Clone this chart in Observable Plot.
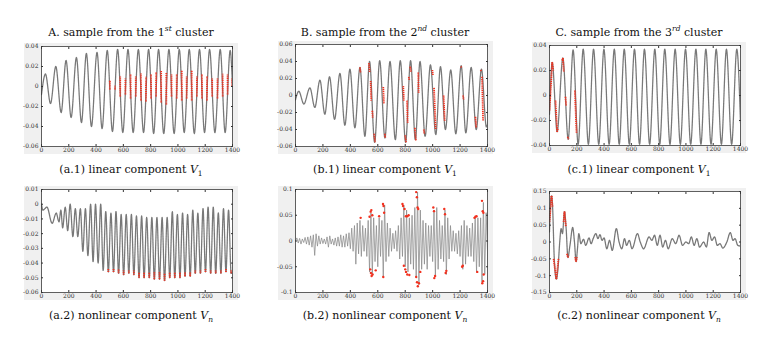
<!DOCTYPE html>
<html><head><meta charset="utf-8">
<script src="https://cdn.jsdelivr.net/npm/d3@7"></script>
<script src="https://cdn.jsdelivr.net/npm/@observablehq/plot@0.6"></script>
<style>
body{margin:0;background:#fff;}
#root{position:relative;width:772px;height:347px;overflow:hidden;font-family:"DejaVu Serif",serif;}
.p{position:absolute;}
.t{position:absolute;font-size:11px;color:#111;white-space:nowrap;transform:translateX(-50%);line-height:1;font-family:"DejaVu Serif",serif;}
.t sup,.t sub{font-size:7.5px;}
</style></head><body><div id="root"></div>
<script>
// ---------- data ----------
const xTicks = [0,200,400,600,800,1000,1200,1400];
const yTicksA1 = [-0.06,-0.04,-0.02,0,0.02,0.04];
const yTicksA2 = [-0.06,-0.05,-0.04,-0.03,-0.02,-0.01,0,0.01];
const yTicksB1 = [-0.06,-0.04,-0.02,0,0.02,0.04,0.06];
const yTicksB2 = [-0.1,-0.05,0,0.05,0.1];
const yTicksC1 = [-0.04,-0.02,0,0.02,0.04];
const yTicksC2 = [-0.15,-0.1,-0.05,0,0.05,0.1,0.15];

// series read as turning points [x, value]
const seriesA1 = [[0,-0.008],[29,0.0125],[66,-0.017],[105,0.020],[144,-0.026],[180,0.026],[217,-0.031],[256,0.029],[293,-0.036],[329,0.033],[366,-0.040],[407,0.034],[444,-0.042],[482,0.036],[520,-0.045],[558,0.037],[596,-0.046],[634,0.037],[672,-0.046],[710,0.037],[748,-0.046],[785,0.037],[822,-0.047],[858,0.037],[896,-0.047],[934,0.037],[972,-0.047],[1010,0.037],[1046,-0.046],[1083,0.037],[1120,-0.047],[1158,0.037],[1195,-0.046],[1232,0.037],[1271,-0.046],[1310,0.037],[1346,-0.046],[1383,0.036],[1400,0.0]];
const seriesA2 = [[0,0.000],[10,-0.004],[40,-0.002],[78,-0.013],[108,-0.006],[128,-0.012],[142,-0.004],[155,-0.016],[174,-0.002],[192,-0.018],[210,0.0],[230,-0.022],[248,-0.003],[266,-0.022],[285,-0.003],[303,-0.032],[322,-0.003],[340,-0.035],[360,0.000],[378,-0.039],[396,0.000],[415,-0.040],[434,0.000],[452,-0.045],[471,-0.005],[490,-0.046],[509,-0.006],[528,-0.046],[546,-0.005],[565,-0.047],[584,-0.007],[602,-0.048],[621,-0.007],[640,-0.047],[659,-0.007],[677,-0.048],[696,-0.008],[715,-0.050],[734,-0.008],[752,-0.050],[771,-0.009],[790,-0.050],[809,-0.009],[827,-0.051],[846,-0.009],[865,-0.051],[884,-0.009],[902,-0.052],[921,-0.009],[940,-0.050],[959,-0.005],[977,-0.050],[996,-0.007],[1015,-0.050],[1034,-0.006],[1052,-0.049],[1071,-0.007],[1090,-0.049],[1109,-0.004],[1127,-0.047],[1146,-0.006],[1165,-0.047],[1184,-0.003],[1202,-0.046],[1221,-0.002],[1240,-0.047],[1259,-0.002],[1277,-0.047],[1296,-0.006],[1315,-0.047],[1334,-0.003],[1352,-0.046],[1371,-0.004],[1390,-0.047],[1400,-0.046]];
const seriesB1 = [[0,-0.005],[24,0.005],[61,-0.010],[105,0.009],[141,-0.014],[178,0.018],[214,-0.022],[248,0.022],[285,-0.028],[324,0.026],[360,-0.035],[397,0.031],[433,-0.038],[470,0.033],[506,-0.048],[540,0.040],[577,-0.055],[614,0.041],[652,-0.050],[689,0.040],[728,-0.052],[764,0.041],[803,-0.055],[839,0.041],[874,-0.052],[908,0.040],[945,-0.048],[984,0.036],[1023,-0.046],[1057,0.034],[1093,-0.040],[1132,0.030],[1169,-0.045],[1208,0.035],[1242,-0.044],[1281,0.033],[1318,-0.040],[1356,0.031],[1392,-0.037],[1400,-0.034]];
const seriesB2 = [0.000,0.006,-0.004,0.005,-0.006,0.004,-0.003,0.007,-0.006,0.008,-0.008,0.010,-0.012,0.012,-0.028,0.014,-0.010,0.010,-0.006,0.006,-0.005,0.004,-0.006,0.008,-0.012,0.010,-0.006,0.004,-0.008,0.006,-0.010,0.008,-0.010,0.012,-0.012,0.010,-0.012,0.014,-0.010,0.016,-0.015,0.025,-0.020,0.030,-0.045,0.035,-0.025,0.040,-0.030,0.030,-0.020,0.025,-0.030,0.040,-0.060,0.055,-0.068,0.045,-0.040,0.030,-0.050,0.045,-0.030,0.040,-0.070,0.070,-0.040,0.035,-0.030,0.025,-0.020,0.015,-0.015,0.020,-0.020,0.030,-0.035,0.045,-0.030,0.070,-0.050,0.060,-0.060,0.045,-0.045,0.050,-0.055,0.065,-0.070,0.095,-0.085,0.060,-0.055,0.040,-0.045,0.035,-0.055,0.030,-0.030,0.030,-0.040,0.060,-0.070,0.065,-0.055,0.040,-0.035,0.030,-0.040,0.060,-0.065,0.045,-0.035,0.030,-0.020,0.020,-0.020,0.015,-0.025,0.020,-0.030,0.030,-0.055,0.040,-0.045,0.030,-0.030,0.025,-0.030,0.035,-0.040,0.045,-0.060,0.045,-0.050,0.045,-0.080,0.075,-0.065,0.055,-0.020];
const seriesB2Step = 10;
const seriesC1 = [[0,-0.015],[20,0.0265],[56,-0.029],[98,0.030],[137,-0.035],[173,0.0365],[210,-0.039],[247,0.037],[285,-0.039],[323,0.037],[361,-0.039],[399,0.037],[437,-0.039],[475,0.037],[511,-0.039],[548,0.037],[585,-0.039],[623,0.037],[660,-0.039],[696,0.037],[734,-0.039],[772,0.037],[808,-0.039],[845,0.037],[883,-0.039],[921,0.037],[959,-0.039],[997,0.037],[1035,-0.039],[1073,0.037],[1110,-0.039],[1146,0.037],[1184,-0.039],[1222,0.037],[1260,-0.039],[1297,0.037],[1335,-0.039],[1373,0.037],[1400,-0.022]];
const seriesC2 = [[0,0.03],[8,0.12],[15,0.137],[22,0.11],[35,-0.05],[50,-0.11],[62,-0.08],[75,0.0],[85,0.04],[95,0.025],[110,0.09],[122,0.04],[135,-0.046],[150,-0.01],[170,0.043],[183,0.0],[195,-0.058],[205,-0.02],[215,0.025],[230,-0.005],[250,0.008],[265,-0.01],[290,0.012],[305,-0.005],[320,0.01],[340,0.025],[355,0.01],[370,0.022],[385,0.005],[400,0.012],[420,-0.02],[440,0.005],[460,-0.025],[490,0.04],[510,0.0],[530,-0.02],[550,0.01],[565,-0.01],[585,0.005],[605,-0.02],[645,0.025],[665,0.0],[690,-0.02],[730,0.015],[750,0.005],[770,0.02],[790,-0.01],[810,0.02],[830,-0.015],[850,0.005],[870,-0.02],[900,0.01],[925,-0.005],[950,0.02],[975,-0.01],[1000,0.0],[1020,-0.005],[1040,0.015],[1060,-0.01],[1080,0.01],[1100,-0.015],[1130,0.0],[1150,-0.015],[1170,0.028],[1190,0.005],[1210,0.015],[1230,-0.01],[1250,-0.005],[1270,-0.018],[1300,0.0],[1325,0.028],[1345,0.005],[1360,0.01],[1380,-0.01],[1400,-0.012]];

// red (cluster-matched) runs [x1, y1, x2, y2]
const redA1 = [[501,-0.003,501,0.006],[539,-0.003,539,0.001],[577,-0.010,577,0.010],[615,-0.008,615,0.008],[653,-0.012,653,0.012],[691,-0.010,691,0.010],[729,-0.014,729,0.013],[766,-0.015,766,0.010],[803,-0.012,803,0.012],[840,-0.010,840,0.014],[877,-0.016,877,0.016],[915,-0.018,915,0.014],[953,-0.010,953,0.012],[991,-0.012,991,0.012],[1028,-0.014,1028,0.016],[1064,-0.012,1064,0.010],[1101,-0.014,1101,0.016],[1139,-0.010,1139,0.010],[1176,-0.012,1176,0.012],[1213,-0.014,1213,0.010],[1251,-0.010,1251,0.008],[1290,-0.012,1290,0.008],[1328,-0.010,1328,0.013],[1364,-0.008,1364,0.012],[1397,0.0,1397,0.008]];
const redA2 = [[490,-0.046,490,-0.044],[528,-0.046,528,-0.044],[565,-0.047,565,-0.044],[602,-0.048,602,-0.045],[640,-0.047,640,-0.045],[677,-0.048,677,-0.045],[715,-0.050,715,-0.046],[752,-0.050,752,-0.046],[790,-0.050,790,-0.046],[827,-0.051,827,-0.046],[865,-0.051,865,-0.046],[902,-0.052,902,-0.047],[940,-0.050,940,-0.046],[977,-0.050,977,-0.046],[1015,-0.050,1015,-0.046],[1052,-0.049,1052,-0.046],[1090,-0.049,1090,-0.046],[1127,-0.047,1127,-0.045],[1165,-0.047,1165,-0.045],[1202,-0.046,1202,-0.044],[1240,-0.047,1240,-0.045],[1277,-0.047,1277,-0.045],[1315,-0.047,1315,-0.045],[1352,-0.046,1352,-0.044],[1390,-0.047,1390,-0.045]];
const redB1 = [[470,0.033,474,0.027],[535,0.038,542,0.027],[548,0.017,552,-0.006],[560,-0.018,563,-0.026],[574,-0.045,580,-0.055],[640,0.010,645,-0.010],[652,-0.045,655,-0.050],[786,0.011,790,-0.006],[800,-0.047,806,-0.055],[813,-0.006,818,-0.032],[826,0.022,830,0.018],[836,0.034,842,0.028],[870,-0.038,878,-0.053],[895,0.027,898,0.003],[935,-0.040,940,-0.045],[998,0.030,1002,0.024],[1010,0.009,1022,-0.040],[1080,0.000,1088,-0.030],[1206,0.034,1210,0.033],[1222,0.000,1226,-0.005],[1312,-0.025,1318,-0.038],[1350,0.030,1356,0.028],[1360,0.022,1368,-0.030]];
const redB2 = [[475,0.045],[540,0.047],[548,0.057],[553,0.060],[560,0.050],[545,-0.055],[550,-0.062],[555,-0.068],[562,-0.065],[585,-0.057],[610,0.048],[638,0.072],[642,0.068],[646,0.055],[640,-0.070],[780,0.072],[784,0.068],[795,0.062],[805,0.048],[815,0.048],[825,0.050],[790,-0.048],[800,-0.055],[806,-0.060],[815,-0.065],[830,-0.066],[880,0.095],[885,0.085],[890,0.065],[895,0.062],[880,-0.070],[886,-0.080],[892,-0.088],[900,-0.082],[910,-0.060],[1005,0.065],[1010,0.058],[1012,-0.072],[1018,-0.068],[1085,0.062],[1090,0.052],[1095,-0.062],[1100,-0.058],[1215,-0.050],[1220,-0.048],[1305,0.045],[1312,0.047],[1320,0.048],[1325,-0.060],[1360,0.078],[1365,0.058],[1370,0.055],[1362,-0.082],[1368,-0.078],[1372,-0.065]];
const redC1 = [[0,-0.012,20,0.0265],[20,0.0265,28,0.020],[44,-0.004,56,-0.029],[56,-0.029,62,-0.026],[93,0.028,98,0.030],[98,0.030,105,0.019],[117,-0.001,122,-0.008],[133,-0.033,140,-0.035],[186,0.004,198,-0.030]];
const redC2 = [[0,0.06,15,0.137],[15,0.137,22,0.105],[30,-0.05,50,-0.11],[50,-0.11,66,-0.05],[103,0.06,110,0.09],[110,0.09,120,0.045],[128,-0.035,135,-0.046],[135,-0.046,140,-0.04],[186,-0.045,195,-0.058],[195,-0.058,202,-0.045]];

// ---------- drawing ----------
const GRAY = "#787878", RED = "#f2311f";
const SERIF = "'DejaVu Serif',serif";
const fmt = d => d === 0 ? "0" : String(+d.toFixed(2));
const root = document.getElementById("root");
const mL = 17, mR = 6, mT = 3, mB = 8;

function panel(box, yDomain, yTicks, lineMarks) {
  const w = box.R - box.L + mL + mR, h = box.B - box.T + mT + mB;
  const svg = Plot.plot({
    width: w, height: h, marginLeft: mL, marginRight: mR, marginTop: mT, marginBottom: mB,
    x: {domain: [0, 1400]}, y: {domain: yDomain},
    style: {background: "#f0f0f0", fontFamily: SERIF, fontSize: "6px", color: "#333", overflow: "visible"},
    marks: [
      Plot.frame({fill: "white", stroke: null}),
      ...lineMarks,
      Plot.axisX({ticks: xTicks, tickSize: 0, tickPadding: 1.5, tickFormat: d => String(d), fontSize: 6}),
      Plot.axisY({ticks: yTicks, tickSize: 0, tickPadding: 3, tickFormat: fmt, fontSize: 6}),
      Plot.axisX({ticks: xTicks, anchor: "bottom", tickSize: -2, tickFormat: () => ""}),
      Plot.axisX({ticks: xTicks, anchor: "top", tickSize: -2, tickFormat: () => ""}),
      Plot.axisY({ticks: yTicks, anchor: "left", tickSize: -2, tickFormat: () => ""}),
      Plot.axisY({ticks: yTicks, anchor: "right", tickSize: -2, tickFormat: () => ""}),
      Plot.frame({stroke: "#3a3a3a", strokeWidth: 0.8})
    ]
  });
  svg.classList.add("p");
  svg.style.left = (box.L - mL) + "px";
  svg.style.top = (box.T - mT) + "px";
  root.appendChild(svg);
}
const grayLine = s => Plot.line(s, {x: d => d[0], y: d => d[1], curve: "monotone-x", stroke: GRAY, strokeWidth: 1.3, strokeDasharray: "1.1,0.5", clip: true});
const redLinks = r => Plot.link(r, {x1: d => d[0], y1: d => d[1], x2: d => d[2], y2: d => d[3], stroke: RED, strokeWidth: 1.8, strokeDasharray: "1.2,0.7", clip: true});

panel({L:41,R:232,T:46,B:146}, [-0.06,0.04], yTicksA1, [grayLine(seriesA1), redLinks(redA1)]);
panel({L:295,R:487,T:44,B:146}, [-0.06,0.06], yTicksB1, [grayLine(seriesB1), redLinks(redB1)]);
panel({L:549,R:740,T:45,B:145}, [-0.04,0.04], yTicksC1, [grayLine(seriesC1), redLinks(redC1)]);
panel({L:41,R:232,T:189,B:292}, [-0.06,0.01], yTicksA2, [grayLine(seriesA2), redLinks(redA2)]);
panel({L:295,R:487,T:189,B:292}, [-0.1,0.1], yTicksB2, [
  Plot.line(seriesB2, {x: (d, i) => i * seriesB2Step, y: d => d, stroke: "#8a8a8a", strokeWidth: 0.75, clip: true}),
  Plot.dot(redB2, {x: d => d[0], y: d => d[1], r: 1.2, fill: RED, stroke: null})
]);
panel({L:549,R:740,T:191,B:292}, [-0.15,0.15], yTicksC2, [grayLine(seriesC2), redLinks(redC2)]);

// ---------- titles ----------
const titles = [
  [131, 25, 'A. sample from the 1<sup><i>st</i></sup> cluster'],
  [385, 25, 'B. sample from the 2<sup><i>nd</i></sup> cluster'],
  [639, 25, 'C. sample from the 3<sup><i>rd</i></sup> cluster'],
  [131, 164, '(a.1) linear component <i>V</i><sub>1</sub>'],
  [385, 164, '(b.1) linear component <i>V</i><sub>1</sub>'],
  [639, 164, '(c.1) linear component <i>V</i><sub>1</sub>'],
  [131, 310, '(a.2) nonlinear component <i>V<sub>n</sub></i>'],
  [385, 310, '(b.2) nonlinear component <i>V<sub>n</sub></i>'],
  [639, 310, '(c.2) nonlinear component <i>V<sub>n</sub></i>']
];
for (const [cx, top, html] of titles) {
  const d = document.createElement("div");
  d.className = "t";
  d.style.left = cx + "px";
  d.style.top = top + "px";
  d.innerHTML = html;
  root.appendChild(d);
}
</script></body></html>
